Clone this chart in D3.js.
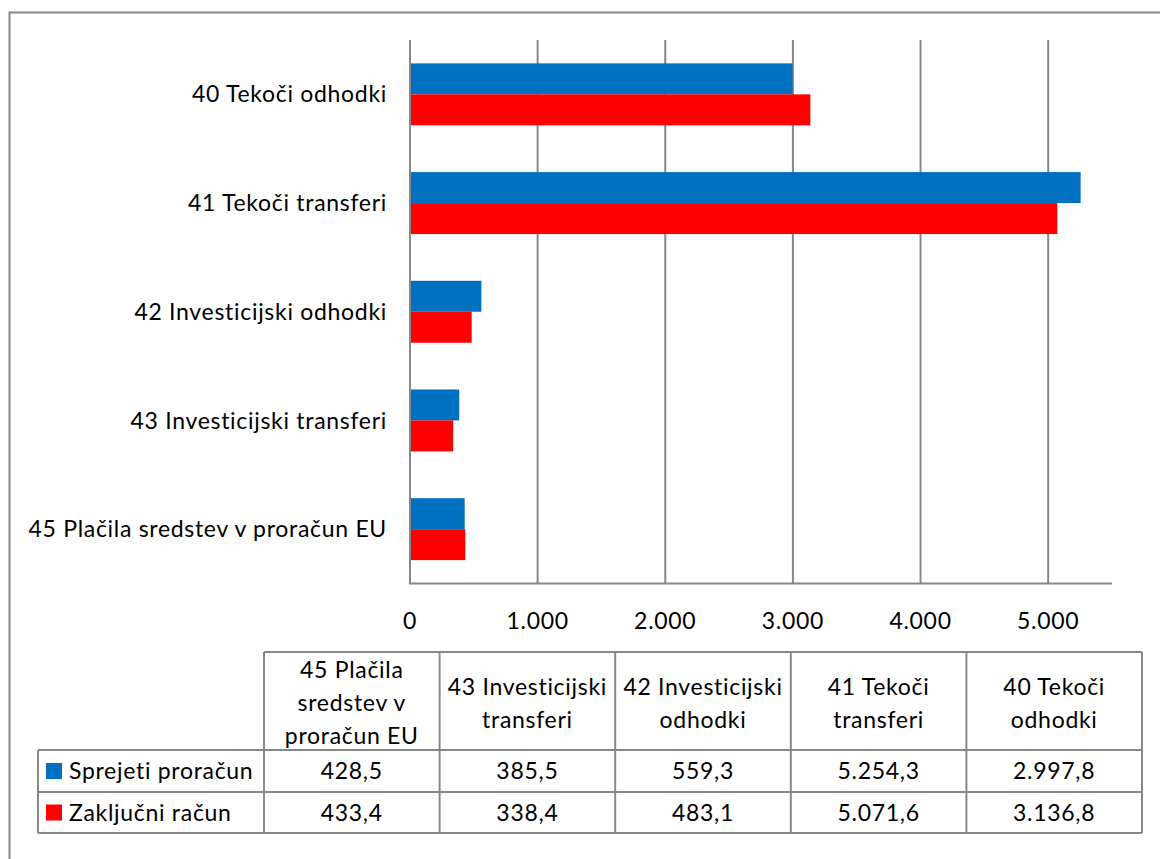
<!DOCTYPE html>
<html>
<head>
<meta charset="utf-8">
<script src="https://cdn.jsdelivr.net/npm/d3@7"></script>
<style>
  body { margin: 0; background: #fff; }
  text { font-family: Lato, "Open Sans", sans-serif; fill: #000; letter-spacing: 0.7px; }
</style>
</head>
<body>
<div id="chart-area"></div>
<script>
// data
var categories = ["40 Tekoči odhodki", "41 Tekoči transferi", "42 Investicijski odhodki",
                  "43 Investicijski transferi", "45 Plačila sredstev v proračun EU"];
var sprejeti = [2997.8, 5254.3, 559.3, 385.5, 428.5];
var zakljucni = [3136.8, 5071.6, 483.1, 338.4, 433.4];
var seriesNames = ["Sprejeti proračun", "Zaključni račun"];
var seriesColors = ["#0070C0", "#FF0000"];
var xTicks = [0, 1000, 2000, 3000, 4000, 5000];
// table header text as wrapped in the table (table order is reversed)
var tableHeaders = {
  "45 Plačila sredstev v proračun EU": ["45 Plačila", "sredstev v", "proračun EU"],
  "43 Investicijski transferi": ["43 Investicijski", "transferi"],
  "42 Investicijski odhodki": ["42 Investicijski", "odhodki"],
  "41 Tekoči transferi": ["41 Tekoči", "transferi"],
  "40 Tekoči odhodki": ["40 Tekoči", "odhodki"]
};

var si = d3.formatLocale({decimal: ",", thousands: ".", grouping: [3], currency: ["", " €"]});
var fmtTick = si.format(",.0f");
var fmtVal = si.format(",.1f");

var grey = "#878787";
var fs = 23;

var svg = d3.select("#chart-area").append("svg")
    .attr("width", 1160)
    .attr("height", 859);

// outer frame (runs off the picture on right and bottom)
svg.append("rect")
    .attr("x", 9.5).attr("y", 12.5)
    .attr("width", 1170).attr("height", 870)
    .attr("fill", "none")
    .attr("stroke", grey)
    .attr("stroke-width", 2);

var x = d3.scaleLinear().domain([0, 5500]).range([410, 1112]);
var y = d3.scaleBand().domain(categories).range([40, 583.5])
    .paddingInner(0.43).paddingOuter(0.215);
var ySub = d3.scaleBand().domain([0, 1]).range([0, y.bandwidth()]);

// gridlines
svg.selectAll(".grid").data(xTicks.slice(1)).enter()
  .append("line")
    .attr("class", "grid")
    .attr("x1", d => x(d)).attr("x2", d => x(d))
    .attr("y1", 40).attr("y2", 583.5)
    .attr("stroke", grey).attr("stroke-width", 2);

// bars
var series = [sprejeti, zakljucni];
series.forEach((vals, s) => {
  svg.selectAll(".bar" + s).data(categories).enter()
    .append("rect")
      .attr("class", "bar" + s)
      .attr("x", x(0))
      .attr("y", d => y(d) + ySub(s))
      .attr("width", (d, i) => x(vals[i]) - x(0))
      .attr("height", ySub.bandwidth())
      .attr("fill", seriesColors[s]);
});

// axes lines
svg.append("line")
    .attr("x1", x(0)).attr("x2", x(0))
    .attr("y1", 40).attr("y2", 583.5)
    .attr("stroke", grey).attr("stroke-width", 2);
svg.append("line")
    .attr("x1", x(0) - 1).attr("x2", 1112)
    .attr("y1", 583.5).attr("y2", 583.5)
    .attr("stroke", grey).attr("stroke-width", 2);

// category labels
svg.selectAll(".cat").data(categories).enter()
  .append("text")
    .attr("class", "cat")
    .attr("x", 387)
    .attr("y", d => y(d) + y.bandwidth() / 2)
    .attr("dy", "0.35em")
    .attr("text-anchor", "end")
    .attr("font-size", fs)
    .text(d => d);

// tick labels
svg.selectAll(".tick").data(xTicks).enter()
  .append("text")
    .attr("class", "tick")
    .attr("x", d => x(d))
    .attr("y", 629)
    .attr("text-anchor", "middle")
    .attr("font-size", fs)
    .text(d => fmtTick(d));

// data table
var tableOrder = categories.slice().reverse();
var col = d3.scaleBand().domain(tableOrder).range([264, 1142]);
var rowY = [652, 750, 792, 833];

var tbl = svg.append("g").attr("stroke", grey).attr("stroke-width", 2);
tbl.append("line").attr("x1", 264).attr("x2", 1142).attr("y1", rowY[0]).attr("y2", rowY[0]);
tbl.append("line").attr("x1", 38).attr("x2", 1142).attr("y1", rowY[1]).attr("y2", rowY[1]);
tbl.append("line").attr("x1", 38).attr("x2", 1142).attr("y1", rowY[2]).attr("y2", rowY[2]);
tbl.append("line").attr("x1", 38).attr("x2", 1142).attr("y1", rowY[3]).attr("y2", rowY[3]);
tbl.append("line").attr("x1", 38).attr("x2", 38).attr("y1", rowY[1]).attr("y2", rowY[3]);
tbl.selectAll(".vline").data(tableOrder).enter()
  .append("line")
    .attr("x1", d => col(d)).attr("x2", d => col(d))
    .attr("y1", rowY[0]).attr("y2", rowY[3]);
tbl.append("line").attr("x1", 1142).attr("x2", 1142).attr("y1", rowY[0]).attr("y2", rowY[3]);

// header text
tableOrder.forEach(c => {
  var lines = tableHeaders[c];
  var lh = 33;
  var cy = (rowY[0] + rowY[1]) / 2 + 2 - (lines.length - 1) * lh / 2;
  svg.append("text")
      .attr("text-anchor", "middle")
      .attr("font-size", fs)
    .selectAll("tspan").data(lines).enter()
    .append("tspan")
      .attr("x", col(c) + col.bandwidth() / 2)
      .attr("y", (d, i) => cy + i * lh)
      .attr("dy", "0.35em")
      .text(d => d);
});

// rows with legend keys
series.forEach((vals, s) => {
  var cy = (rowY[s + 1] + rowY[s + 2]) / 2;
  svg.append("rect")
      .attr("x", 46).attr("y", cy - 8)
      .attr("width", 16).attr("height", 16)
      .attr("fill", seriesColors[s]);
  svg.append("text")
      .attr("x", 69).attr("y", cy)
      .attr("dy", "0.35em")
      .attr("font-size", fs)
      .text(seriesNames[s]);
  svg.selectAll(".val" + s).data(tableOrder).enter()
    .append("text")
      .attr("class", "val" + s)
      .attr("x", d => col(d) + col.bandwidth() / 2)
      .attr("y", cy)
      .attr("dy", "0.35em")
      .attr("text-anchor", "middle")
      .attr("font-size", fs)
      .text(d => fmtVal(vals[categories.indexOf(d)]));
});
</script>
</body>
</html>
